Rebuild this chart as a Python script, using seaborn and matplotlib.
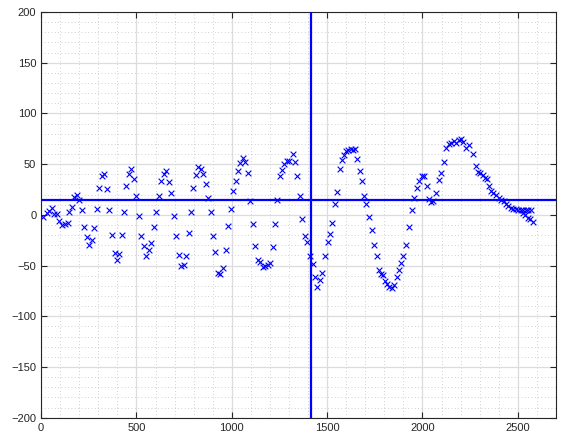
import matplotlib
matplotlib.use("Agg")
import matplotlib.pyplot as plt
import seaborn as sns
import pandas as pd
from matplotlib.ticker import MultipleLocator

# sample positions and values
x_vals = [12, 29, 43, 57, 69, 83, 96, 110, 127, 139, 148, 162, 174, 187, 201, 214,
          227, 239, 253, 265, 279, 291, 302, 319, 332, 344, 358, 372, 386, 397, 410,
          423, 437, 445, 459, 473, 487, 500, 512, 526, 538, 550, 564, 578, 591, 604,
          617, 630, 643, 655, 669, 681, 695, 707, 722, 735, 748, 760, 774, 786, 798,
          813, 825, 837, 851, 863, 877, 890, 902, 914, 928, 940, 954, 968, 980, 994,
          1007, 1021, 1033, 1045, 1057, 1070, 1085, 1098, 1110, 1124, 1138, 1148,
          1162, 1176, 1190, 1201, 1215, 1227, 1239, 1251, 1264, 1276, 1288, 1300,
          1320, 1331, 1342, 1356, 1370, 1383, 1396, 1409, 1426, 1437, 1449, 1463,
          1475, 1488, 1502, 1514, 1528, 1540, 1552, 1566, 1580, 1589, 1601, 1612,
          1625, 1636, 1647, 1657, 1671, 1683, 1695, 1706, 1722, 1734, 1747, 1762,
          1774, 1784, 1792, 1803, 1813, 1826, 1839, 1851, 1865, 1877, 1888, 1900,
          1914, 1930, 1944, 1956, 1970, 1982, 1995, 2007, 2023, 2035, 2045, 2057,
          2071, 2085, 2098, 2112, 2124, 2138, 2150, 2164, 2176, 2190, 2202, 2215,
          2229, 2243, 2267, 2281, 2293, 2304, 2316, 2328, 2339, 2348, 2360, 2372,
          2386, 2400, 2412, 2426, 2438, 2451, 2465, 2477, 2491, 2503, 2517, 2529,
          2543, 2555, 2570, 2525, 2540, 2552, 2566, 2582]
y_vals = [-2, 2, 4, 7, 1, 1, -6, -10, -9, -8, 3, 8, 18, 20, 15, 5,
          -12, -22, -30, -25, -13, 6, 26, 38, 40, 25, 5, -20, -38, -45, -39,
          -20, 3, 28, 40, 45, 35, 19, -1, -21, -31, -41, -35, -28, -12, 3,
          19, 33, 40, 43, 32, 22, -1, -21, -40, -50, -49, -41, -18, 3, 26,
          39, 47, 45, 40, 30, 17, 3, -21, -37, -57, -58, -52, -35, -11, 6,
          24, 33, 43, 51, 56, 52, 41, 14, -9, -31, -45, -46,
          -51, -50, -49, -47, -32, -9, 15, 38, 44, 50, 53, 53,
          60, 52, 38, 19, -4, -21, -27, -41, -48, -61, -71, -64,
          -57, -41, -27, -19, -8, 11, 23, 45, 54, 59, 63, 64,
          65, 64, 65, 55, 43, 33, 19, 11, -2, -15, -30, -41,
          -54, -58, -59, -65, -68, -71, -72, -69, -61, -54, -47, -41,
          -30, -12, 5, 17, 26, 33, 38, 38, 28, 16, 13, 14,
          22, 34, 41, 52, 66, 70, 71, 73, 71, 74, 75, 72,
          66, 69, 60, 48, 42, 41, 39, 36, 35, 28, 24, 22,
          20, 17, 15, 14, 11, 9, 7, 6, 6, 5, 5, 5,
          5, 5, 5, 2, 0, -3, -4, -7]

h_line = 14.6
v_line = 1413

df = pd.DataFrame({"x": x_vals, "y": y_vals})

plt.rcParams["font.family"] = ["Liberation Sans", "DejaVu Sans"]
fig = plt.figure(figsize=(5.61, 4.40), dpi=100)
ax = fig.add_axes([0.0733, 0.0507, 0.9177, 0.922])

ax.set_axisbelow(True)
ax.xaxis.set_major_locator(MultipleLocator(500))
ax.xaxis.set_minor_locator(MultipleLocator(100))
ax.yaxis.set_major_locator(MultipleLocator(50))
ax.yaxis.set_minor_locator(MultipleLocator(10))
ax.grid(which="major", color="#dcdcdc", linewidth=0.9, linestyle="-")
ax.grid(which="minor", color="#c0c0c0", linewidth=0.6, linestyle=(0, (1, 3)))

ax.axhline(h_line, color="blue", linewidth=1.6, zorder=3)
ax.axvline(v_line, color="blue", linewidth=1.6, zorder=3)

sns.scatterplot(data=df, x="x", y="y", marker="x", color="blue", s=17,
                linewidth=0.8, ax=ax, zorder=4)

ax.set_xlim(0, 2700)
ax.set_ylim(-200, 200)
ax.set_xlabel("")
ax.set_ylabel("")
ax.tick_params(which="major", direction="in", length=4, top=True, right=True,
               labelsize=8, colors="#262626", width=0.8)
ax.tick_params(which="minor", length=0, top=True, right=True)
for s in ax.spines.values():
    s.set_color("#262626")
    s.set_linewidth(0.8)

fig.savefig("out.png", dpi=100)
